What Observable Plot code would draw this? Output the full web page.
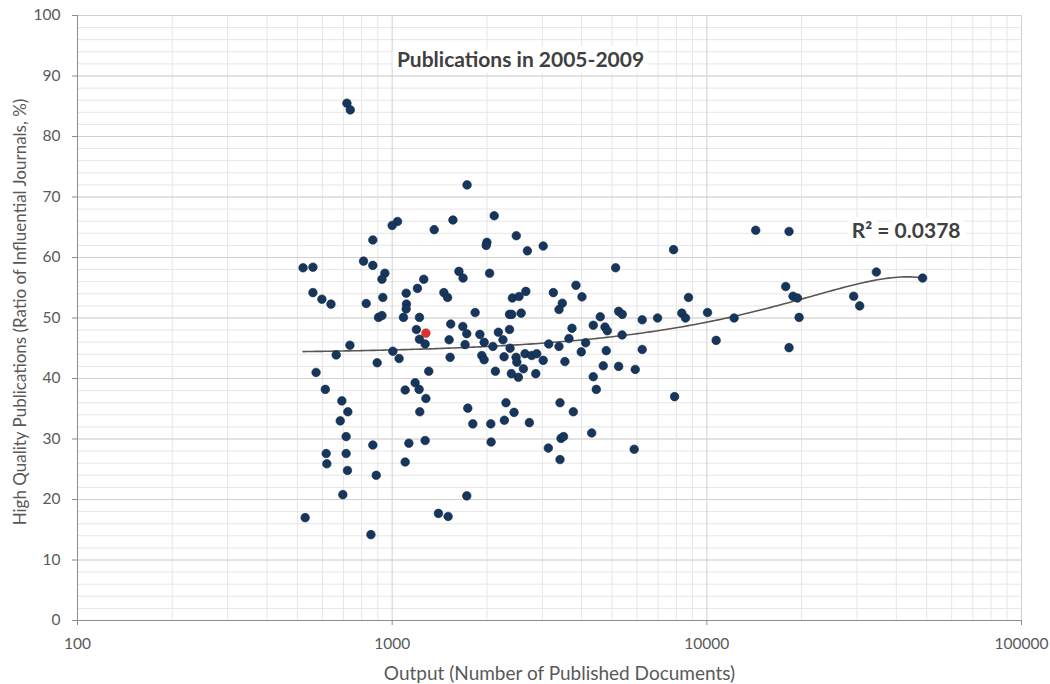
<!DOCTYPE html>
<html><head><meta charset="utf-8">
<script src="https://cdn.jsdelivr.net/npm/d3@7"></script>
<script src="https://cdn.jsdelivr.net/npm/@observablehq/plot@0.6"></script>
<style>body{margin:0;background:#fff} svg{display:block}</style>
</head><body><div id="chart"></div>
<script>
// Output (number of published documents) per institution
const outputDocs = [
  1730, 2110, 1560, 1360, 1040, 1000, 868, 2480, 2000, 1990, 2690, 521, 560, 811, 868, 948, 928, 1260, 1203, 1630,
  1680, 2040, 560, 598, 639, 827, 934, 1108, 1110, 1108, 1086, 905, 928, 1221, 1460, 1500, 1835, 2410, 2530, 2660,
  2360, 2400, 2570, 1194, 1221, 1273, 1535, 1677, 1726, 1517, 1705, 1900, 1960, 2090, 2175, 2250, 2360, 2370, 734, 664,
  1005, 1052, 896, 573, 1528, 1307, 1927, 1960, 2268, 2476, 2490, 2644, 2776, 2880, 2128, 2392, 2518, 2612, 2860, 613,
  692, 723, 684, 714, 617, 714, 620, 721, 697, 529, 856, 868, 890, 1100, 1183, 1218, 1280, 1224, 1130, 1273,
  1100, 1403, 1506, 1726, 1739, 1804, 2058, 2063, 2300, 2440, 2273, 2729, 3020, 5130, 7840, 14300, 3252, 3838, 4011, 3472,
  3390, 3728, 3646, 3145, 3390, 4120, 4356, 4585, 4746, 4827, 5245, 5385, 5380, 6232, 6973, 6232, 8328, 8555, 8747, 10050,
  10705, 12210, 4790, 3990, 3020, 3540, 4686, 5245, 5922, 4356, 4454, 7898, 3415, 3764, 4306, 3440, 3505, 3135, 5877, 3415,
  18250, 34570, 48500, 17810, 18790, 19410, 29290, 30600, 19640, 18250, 718, 736
];
// High quality publications (ratio of influential journals, %)
const ratioPct = [
  72.0, 66.9, 66.2, 64.6, 65.95, 65.3, 62.9, 63.6, 62.5, 62.0, 61.1, 58.3, 58.4, 59.4, 58.7, 57.4, 56.4, 56.4, 54.9, 57.7,
  56.6, 57.4, 54.2, 53.1, 52.3, 52.4, 53.4, 54.1, 52.3, 51.5, 50.1, 50.1, 50.4, 50.1, 54.2, 53.4, 50.9, 53.3, 53.55, 54.4,
  50.6, 50.6, 50.8, 48.1, 46.5, 45.7, 49.0, 48.6, 47.4, 46.4, 45.6, 47.3, 46.0, 45.3, 47.65, 46.4, 48.1, 45.0, 45.5, 43.9,
  44.5, 43.3, 42.6, 41.0, 43.5, 41.2, 43.8, 43.1, 43.6, 43.5, 42.7, 44.1, 43.8, 44.1, 41.2, 40.8, 40.2, 41.6, 40.8, 38.2,
  36.3, 34.5, 33.0, 30.4, 27.6, 27.6, 25.9, 24.8, 20.8, 17.0, 14.2, 29.0, 24.0, 38.1, 39.3, 38.2, 36.7, 34.5, 29.3, 29.75,
  26.2, 17.7, 17.2, 20.6, 35.1, 32.5, 32.5, 29.5, 36.0, 34.4, 33.1, 32.7, 61.9, 58.3, 61.3, 64.5, 54.2, 55.4, 53.5, 52.45,
  51.4, 48.3, 46.6, 45.7, 45.3, 45.9, 48.8, 50.2, 48.5, 47.9, 51.1, 50.6, 47.2, 49.7, 50.0, 44.8, 50.8, 50.0, 53.4, 50.9,
  46.3, 50.0, 44.6, 44.4, 43.0, 42.8, 42.1, 42.0, 41.5, 40.3, 38.2, 37.0, 36.0, 34.5, 31.0, 30.1, 30.4, 28.5, 28.3, 26.6,
  64.3, 57.6, 56.6, 55.2, 53.6, 53.3, 53.6, 52.0, 50.1, 45.1, 85.5, 84.4
];
// highlighted institution (red point)
const highlightDocs = [1280];
const highlightPct = [47.5];

const xTicks = [100, 1000, 10000, 100000];
const yTicks = [0, 10, 20, 30, 40, 50, 60, 70, 80, 90, 100];
const titleText = "Publications in 2005-2009";
const r2Label = "R\u00B2 = 0.0378";
const xLabel = "Output (Number of Published Documents)";
const yLabel = "High Quality Publications (Ratio of Influential Journals, %)";

const points = outputDocs.map((x, i) => ({x, y: ratioPct[i]}));
const highlight = highlightDocs.map((x, i) => ({x, y: highlightPct[i]}));
const allPoints = points.concat(highlight);

// Polynomial (order 2) least-squares trendline, as in the spreadsheet
function polyfit2(pts) {
  const s = 10000;
  let S = [0,0,0,0,0], T = [0,0,0];
  for (const p of pts) {
    const u = p.x / s;
    let pw = 1;
    for (let k = 0; k < 5; k++) { S[k] += pw; if (k < 3) T[k] += pw * p.y; pw *= u; }
  }
  const A = [[S[0],S[1],S[2],T[0]],[S[1],S[2],S[3],T[1]],[S[2],S[3],S[4],T[2]]];
  for (let i = 0; i < 3; i++) {
    for (let j = i + 1; j < 3; j++) {
      const f = A[j][i] / A[i][i];
      for (let k = i; k < 4; k++) A[j][k] -= f * A[i][k];
    }
  }
  const c = [0,0,0];
  for (let i = 2; i >= 0; i--) {
    let v = A[i][3];
    for (let k = i + 1; k < 3; k++) v -= A[i][k] * c[k];
    c[i] = v / A[i][i];
  }
  return x => c[0] + c[1] * (x / s) + c[2] * (x / s) ** 2;
}
const fit = polyfit2(allPoints);
const xMin = d3.min(allPoints, d => d.x), xMax = d3.max(allPoints, d => d.x);
const trend = d3.range(0, 201).map(i => {
  const x = Math.exp(Math.log(xMin) + (Math.log(xMax) - Math.log(xMin)) * i / 200);
  return {x, y: fit(x)};
});

const xMinor = [];
for (const d of [100, 1000, 10000]) for (let k = 2; k <= 9; k++) xMinor.push(k * d);
const yMinor = d3.range(0, 101, 2);

const chart = Plot.plot({
  width: 1050, height: 684,
  marginLeft: 77, marginRight: 29, marginTop: 15, marginBottom: 64,
  x: {type: "log", domain: [100, 100000]},
  y: {domain: [0, 100]},
  style: {fontFamily: "Lato, 'Open Sans', sans-serif", fontSize: "15px", color: "#595959", background: "#fff"},
  marks: [
    Plot.ruleX(xMinor, {stroke: "#e6e6e6", strokeWidth: 1}),
    Plot.ruleY(yMinor, {stroke: "#e6e6e6", strokeWidth: 1}),
    Plot.ruleX(xTicks, {stroke: "#d2d2d2", strokeWidth: 1}),
    Plot.ruleY(yTicks, {stroke: "#d2d2d2", strokeWidth: 1}),
    Plot.axisX(xTicks, {tickFormat: d => String(d), tickSize: 5, tickPadding: 12, stroke: "#8c8c8c", fill: "#595959", label: null, fontSize: 15.5}),
    Plot.axisY(yTicks, {tickFormat: d => String(d), tickSize: 5, tickPadding: 12, stroke: "#8c8c8c", fill: "#595959", label: null, fontSize: 15.5}),
    Plot.ruleX([100], {stroke: "#8c8c8c"}),
    Plot.ruleY([0], {stroke: "#8c8c8c"}),
    Plot.line(trend, {x: "x", y: "y", stroke: "#595651", strokeWidth: 1.6}),
    Plot.dot(points, {x: "x", y: "y", r: 4.3, fill: "#17365d", stroke: "#0f2742", strokeWidth: 0.6}),
    Plot.dot(highlight, {x: "x", y: "y", r: 4.3, fill: "#e0312e", stroke: "#c92a28", strokeWidth: 0.6}),
    Plot.text([titleText], {frameAnchor: "top", dx: -29, dy: 37, fontWeight: "bold", fontSize: 21, fill: "#404040", stroke: "white", strokeWidth: 12}),
    Plot.text([r2Label], {frameAnchor: "top-right", textAnchor: "end", dx: -61, dy: 208, fontWeight: "bold", fontSize: 21, fill: "#404040", stroke: "white", strokeWidth: 12}),
    Plot.text([xLabel], {frameAnchor: "bottom", dx: 10, dy: 59, fontSize: 19, fill: "#595959"}),
    Plot.text([yLabel], {frameAnchor: "left", textAnchor: "middle", rotate: -90, dx: -57, dy: -6, fontSize: 17, fill: "#595959"})
  ]
});
document.getElementById("chart").appendChild(chart);
</script>
</body></html>
